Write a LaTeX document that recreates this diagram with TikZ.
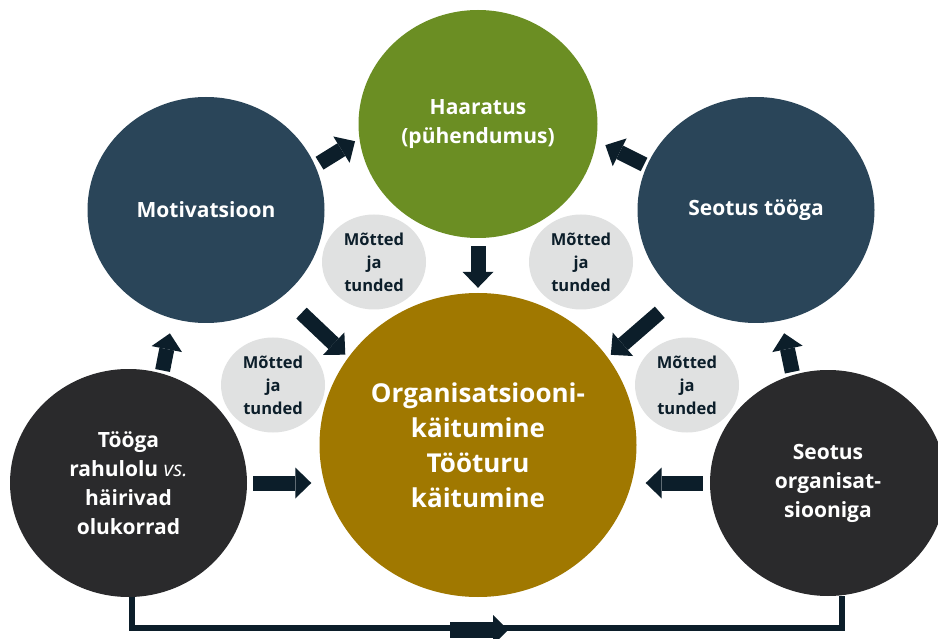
\documentclass[tikz,border=0pt]{standalone}
\usepackage{fontspec}
\setmainfont{Open Sans}
\usetikzlibrary{arrows.meta,shapes.geometric,calc}
\definecolor{cgreen}{RGB}{107,142,35}
\definecolor{cnavy}{RGB}{42,69,89}
\definecolor{cgold}{RGB}{160,120,0}
\definecolor{cdark}{RGB}{42,42,44}
\definecolor{cgray}{RGB}{224,225,225}
\definecolor{carrow}{RGB}{12,30,42}
\begin{document}
\begin{tikzpicture}[x=1pt,y=-1pt,
  bubble/.style={ellipse, inner sep=0pt, text=white, align=center,
    font=\bfseries\fontsize{21}{29}\selectfont},
  smallb/.style={ellipse, fill=cgray, minimum width=104pt, minimum height=95pt,
    inner sep=0pt, align=center, text=carrow,
    font=\bfseries\fontsize{16.5}{23}\selectfont},
  blk/.style={draw=carrow, line width=15pt,
    -{Triangle[width=31pt,length=16pt,line width=0pt]}},
  conn/.style={draw=carrow, line width=6pt}]
\useasboundingbox (0,0) rectangle (938,639);
\fill[white] (0,0) rectangle (938,639);

\node[bubble, fill=cgreen, minimum width=239pt, minimum height=228pt] (haa) at (478,124) {Haaratus\\(pühendumus)};
\node[bubble, fill=cnavy, minimum width=237pt, minimum height=226pt] (mot) at (206,210) {Motivatsioon};
\node[bubble, fill=cnavy, minimum width=237pt, minimum height=226pt] (seo) at (756,210) {Seotus tööga};
\node[bubble, fill=cgold, minimum width=317pt, minimum height=304pt,
  font=\bfseries\fontsize{26}{35}\selectfont] (org) at (478,445) {Organisatsiooni-\\käitumine\\Tööturu\\käitumine};
\node[bubble, fill=cdark, minimum width=237pt, minimum height=228pt] (too) at (128.5,483) {Tööga\\rahulolu {\mdseries\itshape vs.}\\häirivad\\olukorrad};
\node[bubble, fill=cdark, minimum width=236pt, minimum height=226pt] (sor) at (828,483) {Seotus\\organisat-\\siooniga};

\node[smallb] (g1) at (374,262) {Mõtted\\ja\\tunded};
\node[smallb] (g2) at (581,262) {Mõtted\\ja\\tunded};
\node[smallb] (g3) at (273,385) {Mõtted\\ja\\tunded};
\node[smallb] (g4) at (687,385) {Mõtted\\ja\\tunded};

\draw[blk, shorten <=5pt, shorten >=5pt] (mot.22) -- (haa.187);
\draw[blk, shorten <=3pt, shorten >=10pt] (seo.158) -- (haa.-8);
\draw[blk, shorten <=8pt, shorten >=5pt] (haa.south) -- (org.north);
\draw[blk, shorten <=25pt, shorten >=4pt] (mot.-48) -- (org.146);
\draw[blk, shorten <=25pt, shorten >=4pt] (seo.-132) -- (org.34);
\draw[blk, shorten <=3pt, shorten >=15pt] (too.73) -- (mot.-107);
\draw[blk, shorten <=3pt, shorten >=13pt] (sor.108) -- (seo.-77);
\draw[blk, shorten <=6pt, shorten >=8pt] (too.east) -- (too.east -| org.west);
\draw[blk, shorten <=7pt, shorten >=9pt] (sor.west) -- (sor.west -| org.east);

\coordinate (ma) at (450,630);
\coordinate (mb) at (508,630);
\draw[conn] ([xshift=3pt]too.south) -- ++(0,31) coordinate (c1) -| ([xshift=14pt]sor.south);
\draw[blk, line width=16pt, -{Triangle[width=30pt,length=15pt,line width=0pt]}] (ma) -- (mb);
\end{tikzpicture}
\end{document}
